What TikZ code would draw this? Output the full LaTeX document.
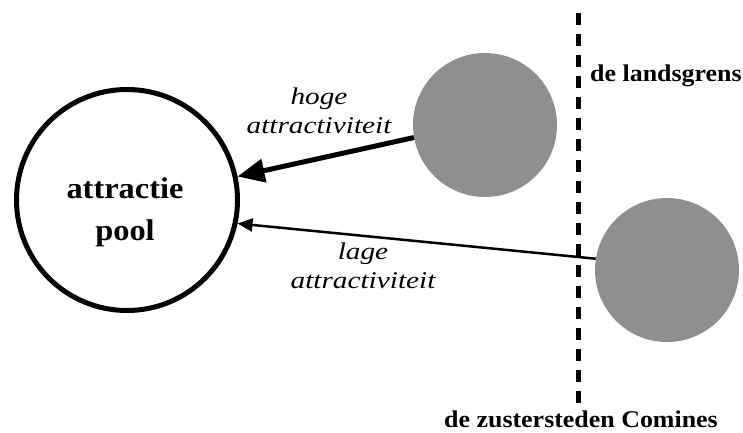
\documentclass[tikz,border=0pt]{standalone}
\usepackage{fontspec}
\setmainfont{Liberation Serif}[FakeStretch=1.08]
\newfontfamily\italfont{Liberation Serif}[FakeStretch=1.22]
\usetikzlibrary{arrows.meta, positioning}
\definecolor{cgray}{HTML}{8F8F8F}

\begin{document}
\begin{tikzpicture}[x=1pt, y=1pt,
  stad/.style={circle, fill=cgray, inner sep=0pt, minimum size=144pt},
  grenstekst/.style={font=\fontsize{24}{28}\selectfont\bfseries, inner sep=0pt},
  pijltekst/.style={font=\fontsize{24}{29}\selectfont\italfont\itshape, align=center, inner sep=0pt}]
\useasboundingbox (0,0) rectangle (743,432);
\fill[white] (0,0) rectangle (743,432);
% attractiepool en de twee steden
\node[circle, draw, line width=5pt, inner sep=0pt, minimum size=221pt] (pool) at (127,232) {};
\node[font=\fontsize{30}{42}\selectfont\bfseries, align=center, inner sep=0pt]
  (poollbl) at (125,220) {attractie\\pool};
\node[stad] (stadA) at (485,307) {};
\node[stad] (stadB) at (667,162) {};
% landsgrens
\coordinate (grensTop) at (578,419);
\coordinate (grensBot) at (578,25);
\draw[line width=5pt, dash pattern=on 12pt off 9pt] (grensTop) -- (grensBot);
\node[grenstekst, anchor=base west] (grens) at (590,350) {de landsgrens};
\node[grenstekst, anchor=base] (zuster) at (581,5) {de zustersteden Comines};
% pijlen
\draw[line width=5pt, -{Triangle[length=27pt, width=23pt]}] (stadA.190) -- (pool.12);
\draw[line width=2.5pt, -{Triangle[length=15pt, width=13pt]}] (stadB.171) -- (pool.-12);
\node[pijltekst] (hoog) at (319,321) {hoge\\attractiviteit};
\node[pijltekst] (laag) at (363,166) {lage\\attractiviteit};
\end{tikzpicture}
\end{document}
